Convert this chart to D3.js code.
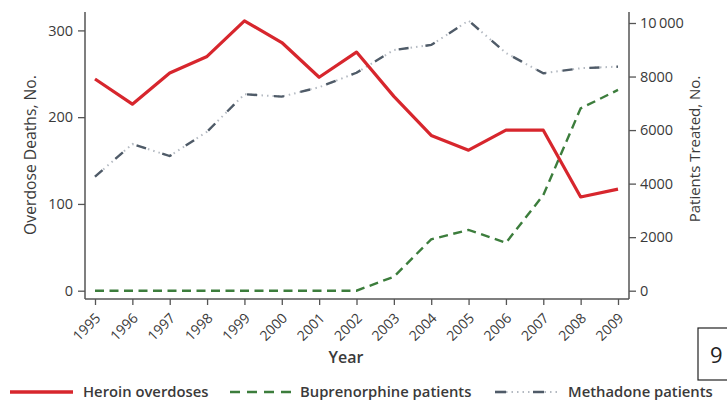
<!DOCTYPE html>
<html><head><meta charset="utf-8">
<script src="https://cdn.jsdelivr.net/npm/d3@7"></script>
<style>
body{margin:0;background:#fff;}
svg text{font-family:"Open Sans","Noto Sans",sans-serif;}
</style></head>
<body><svg id="c" width="727" height="403"></svg>
<script>
const years = [1995,1996,1997,1998,1999,2000,2001,2002,2003,2004,2005,2006,2007,2008,2009];
const heroin = [244,215,251,270,311,286,246,275,224,179,162,185,185,108,117];
const buprenorphine = [0,0,0,0,0,0,0,0,520,1920,2270,1790,3570,6810,7500];
const methadone = [4260,5480,5030,5940,7340,7250,7600,8140,8990,9180,10090,8880,8120,8310,8370];
const leftTicks = [0,100,200,300];
const rightTicks = [0,2000,4000,6000,8000,10000];
const legendLabels = ["Heroin overdoses","Buprenorphine patients","Methadone patients"];

const svg = d3.select("#c");
const x = d3.scaleLinear().domain([1995,2009]).range([95,618]);
const yL = d3.scaleLinear().domain([0,300]).range([290.7,30.4]);
const yR = d3.scaleLinear().domain([0,10000]).range([290.7,23]);
const axisColor = "#555", textColor = "#3a3a3a";

// axis frame lines
svg.append("line").attr("x1",85).attr("x2",85).attr("y1",12).attr("y2",299).attr("stroke",axisColor).attr("stroke-width",1.5);
svg.append("line").attr("x1",629).attr("x2",629).attr("y1",12).attr("y2",299).attr("stroke",axisColor).attr("stroke-width",1.5);
svg.append("line").attr("x1",85).attr("x2",629).attr("y1",299).attr("y2",299).attr("stroke",axisColor).attr("stroke-width",1.5);

// left axis
const gL = svg.append("g").attr("transform","translate(85,0)")
  .call(d3.axisLeft(yL).tickValues(leftTicks).tickSize(7).tickPadding(5));
// right axis
const gR = svg.append("g").attr("transform","translate(629,0)")
  .call(d3.axisRight(yR).tickValues(rightTicks).tickSize(7).tickPadding(4).tickFormat(d=> d===10000 ? "10\u2009000" : d));
// bottom axis
const gB = svg.append("g").attr("transform","translate(0,299)")
  .call(d3.axisBottom(x).tickValues(years).tickSize(6).tickFormat(d3.format("d")));
[gL,gR,gB].forEach(g=>{
  g.select(".domain").remove();
  g.selectAll(".tick line").attr("stroke",axisColor).attr("stroke-width",1.3);
  g.selectAll(".tick text").attr("fill",textColor).style("font-size","14.5px");
});
gB.selectAll(".tick text")
  .attr("text-anchor","end").attr("dy",null).attr("y",0)
  .attr("transform","translate(6,20) rotate(-45)")
  .style("font-size","14px");

// axis titles
svg.append("text").attr("transform","translate(36,155) rotate(-90)").attr("text-anchor","middle")
  .attr("fill",textColor).style("font-size","15.7px").text("Overdose Deaths, No.");
svg.append("text").attr("transform","translate(700,149) rotate(-90)").attr("text-anchor","middle")
  .attr("fill",textColor).style("font-size","15px").text("Patients Treated, No.");
svg.append("text").attr("x",346).attr("y",363).attr("text-anchor","middle")
  .attr("fill",textColor).style("font-size","16px").style("font-weight","600").text("Year");

// lines
const lineL = d3.line().x((d,i)=>x(years[i])).y(d=>yL(d));
const lineR = d3.line().x((d,i)=>x(years[i])).y(d=>yR(d));

// methadone: dark dashes + light dots
svg.append("path").attr("d",lineR(methadone)).attr("fill","none")
  .attr("stroke","#b4bac2").attr("stroke-width",2).attr("stroke-dasharray","1.5,4");
svg.append("path").attr("d",lineR(methadone)).attr("fill","none")
  .attr("stroke","#4f5b68").attr("stroke-width",2.4).attr("stroke-dasharray","10,17");
// buprenorphine
svg.append("path").attr("d",lineR(buprenorphine)).attr("fill","none")
  .attr("stroke","#3c7d3c").attr("stroke-width",2.4).attr("stroke-dasharray","9,5.5");
// heroin
svg.append("path").attr("d",lineL(heroin)).attr("fill","none")
  .attr("stroke","#d7262d").attr("stroke-width",3.2).attr("stroke-linejoin","round");

// legend
const ly = 392;
svg.append("line").attr("x1",10).attr("x2",73).attr("y1",ly).attr("y2",ly).attr("stroke","#d7262d").attr("stroke-width",3.5);
svg.append("line").attr("x1",230).attr("x2",296).attr("y1",ly).attr("y2",ly).attr("stroke","#3c7d3c").attr("stroke-width",2.4).attr("stroke-dasharray","10,7");
svg.append("line").attr("x1",495).attr("x2",558).attr("y1",ly).attr("y2",ly).attr("stroke","#b4bac2").attr("stroke-width",2).attr("stroke-dasharray","1.5,4");
svg.append("line").attr("x1",495).attr("x2",558).attr("y1",ly).attr("y2",ly).attr("stroke","#4f5b68").attr("stroke-width",2.6).attr("stroke-dasharray","11,27");
const lx = [83,300,568];
legendLabels.forEach((t,i)=>{
  svg.append("text").attr("x",lx[i]).attr("y",ly+5).attr("fill",textColor)
    .style("font-size","14.8px").style("font-weight","600").text(t);
});

// page box
svg.append("rect").attr("x",698).attr("y",328).attr("width",40).attr("height",52)
  .attr("fill","#fff").attr("stroke","#222").attr("stroke-width",1.2);
svg.append("text").attr("x",710).attr("y",363).attr("fill","#222").style("font-size","22px").text("9");
</script></body></html>
